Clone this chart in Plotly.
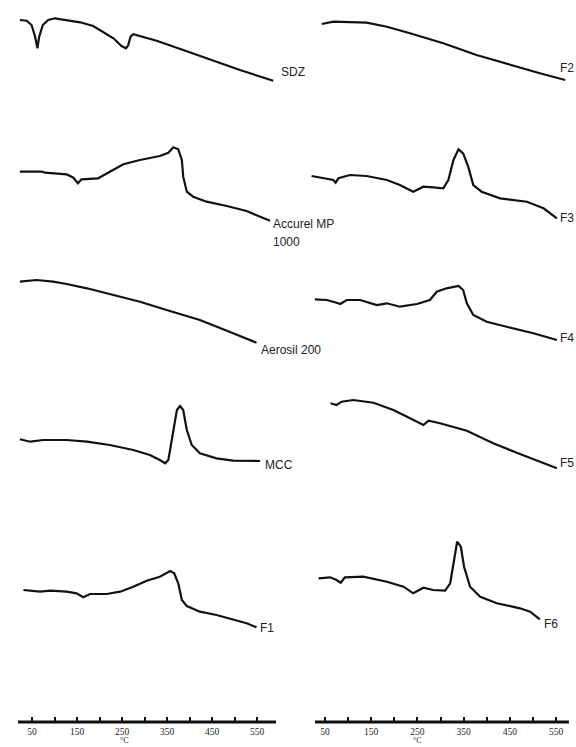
import plotly.graph_objects as go

# ---------------- data (temperature in degC, heat-flow signal in arbitrary units, up = exo) -------------
sdz_T = [23, 38, 49, 57, 62, 66, 74, 86, 101, 127, 157, 186, 208, 231, 249, 259, 264, 269, 275, 290, 327, 386, 460, 512, 586]
sdz_S = [0, -0.7, -5, -16.7, -28.3, -16.7, -5, 0, 1.7, 0, -2.3, -6, -11.7, -18.3, -26, -28.3, -25, -16.7, -14.3, -16, -20.7, -30, -41.7, -50, -60.7]

acc_T = [23, 72, 79, 127, 142, 152, 160, 197, 223, 253, 290, 334, 353, 364, 375, 383, 386, 394, 408, 438, 483, 527, 557, 579]
acc_S = [0, 0, -1, -2.6, -6, -11.6, -7.6, -6.6, 0, 7.4, 11.7, 15.7, 19, 24.4, 22.4, 11.7, -5, -20, -25, -30, -34.3, -39.3, -45, -49]

aer_T = [23, 60, 97, 127, 172, 223, 290, 349, 423, 497, 549]
aer_S = [0, 1.7, 0, -2.3, -6.6, -12.3, -20, -28.3, -38.3, -51.6, -61]

mcc_T = [23, 46, 75, 127, 172, 223, 275, 312, 334, 346, 353, 364, 372, 379, 386, 394, 405, 423, 460, 497, 557]
mcc_S = [0, -2.4, -0.7, -0.7, -2.4, -5.7, -10.7, -15.7, -20.7, -24, -20.7, 6, 29.3, 33.3, 29.3, 9.3, -5.7, -14, -19, -21.4, -21.7]

f1_T = [31, 68, 90, 127, 149, 164, 179, 216, 246, 275, 305, 334, 357, 366, 375, 383, 394, 423, 460, 497, 527, 549]
f1_S = [0, -1.7, -0.7, -1.7, -3.3, -7.3, -4, -4, -1.7, 3.3, 9.3, 13.3, 19, 16.7, 6.7, -10, -16, -21.7, -25, -29.3, -33.3, -37.3]

f2_T = [43, 68, 140, 184, 234, 306, 378, 450, 515, 570]
f2_S = [0, 2.3, 1.3, -2.7, -9.3, -19.3, -31, -41, -49.3, -56]

f3_T = [21, 54, 68, 73, 79, 104, 140, 184, 212, 241, 263, 284, 306, 317, 328, 339, 349, 360, 371, 389, 429, 487, 523, 552]
f3_S = [0, -2.3, -4, -6.7, -2.3, 1, 0, -4, -9, -15.7, -10.7, -11.3, -12.3, -4, 16, 26.7, 22.7, 9.3, -9, -15.7, -22.3, -25.7, -32.3, -42.3]

f4_T = [28, 54, 75, 83, 97, 126, 162, 184, 212, 249, 277, 292, 313, 339, 349, 357, 371, 400, 443, 501, 552]
f4_S = [0, -0.7, -3.4, -4.7, -0.7, -0.7, -5.7, -4, -7.4, -4.7, -0.7, 7.6, 11, 13.3, 9.3, -4, -15.7, -22.4, -27.4, -34, -40.7]

f5_T = [62, 75, 86, 111, 155, 198, 234, 263, 274, 299, 357, 414, 472, 523, 552]
f5_S = [0, -1.7, 1.6, 3.3, 0.6, -6.7, -15, -21.7, -17.4, -20, -27.4, -40, -50.7, -59.4, -65]

f6_T = [36, 61, 75, 84, 93, 133, 184, 220, 241, 263, 284, 310, 321, 329, 336, 344, 351, 364, 386, 422, 472, 494, 515]
f6_S = [0, 1, -1.7, -4.4, 1, 1.6, -3.4, -8.4, -15, -9.4, -11.7, -12.4, -5, 18.3, 36.6, 31.6, 11.6, -8.4, -18.4, -25, -30, -33.4, -41]

names = ["SDZ", "Accurel MP 1000", "Aerosil 200", "MCC", "F1", "F2", "F3", "F4", "F5", "F6"]

tick_vals = [50, 100, 150, 200, 250, 300, 350, 400, 450, 500, 550]
tick_text = ["50", "", "150", "", "250", "", "350", "", "450", "", "550"]

# ---------------- layout / stacking config ----------------
W, H = 576, 747
curves = [
    # (T, S, axis, vertical offset)
    (sdz_T, sdz_S, "x", 727),
    (acc_T, acc_S, "x", 575.3),
    (aer_T, aer_S, "x", 465.3),
    (mcc_T, mcc_S, "x", 307.7),
    (f1_T, f1_S, "x", 157),
    (f2_T, f2_S, "x2", 723),
    (f3_T, f3_S, "x2", 571),
    (f4_T, f4_S, "x2", 447.7),
    (f5_T, f5_S, "x2", 343.7),
    (f6_T, f6_S, "x2", 168.7),
]
labels = [
    ("SDZ", "x", 599, 675),
    ("Accurel MP", "x", 581, 523),
    ("1000", "x", 581, 505),
    ("Aerosil 200", "x", 554, 397),
    ("MCC", "x", 563, 282),
    ("F1", "x", 552, 119),
    ("F2", "x2", 554, 679),
    ("F3", "x2", 554, 529),
    ("F4", "x2", 554, 409),
    ("F5", "x2", 554, 284),
    ("F6", "x2", 520, 123),
]

fig = go.Figure()
for (T, S, xa, off), nm in zip(curves, names):
    fig.add_trace(go.Scatter(
        x=T, y=[off + s for s in S], xaxis=xa, yaxis="y", mode="lines", name=nm,
        line=dict(color="#111111", width=2.2),
        showlegend=False, hoverinfo="skip"))

axis_pos = 25 / H
common_x = dict(anchor="free", position=axis_pos, side="bottom", showgrid=False, zeroline=False,
                showline=False, ticks="inside", ticklen=5, tickwidth=2, tickcolor="#111111",
                tickmode="array", tickvals=tick_vals, ticktext=tick_text, ticklabelstandoff=2,
                tickfont=dict(family="Liberation Serif", size=9.5, color="#222222"))
fig.update_layout(
    width=W, height=H,
    margin=dict(l=0, r=0, t=0, b=0),
    paper_bgcolor="white", plot_bgcolor="white",
    xaxis=dict(domain=[0, 0.5], range=[-21.1, 618.9], **common_x),
    xaxis2=dict(domain=[0.5, 1], range=[-30.1, 593.3], **common_x),
    yaxis=dict(domain=[0, 1], range=[0, H], visible=False),
)

# axis baselines
for xa, x0, x1 in [("x", 18.9, 592.2), ("x2", 28.4, 578)]:
    fig.add_shape(type="line", xref=xa, yref="paper", x0=x0, x1=x1, y0=axis_pos, y1=axis_pos,
                  line=dict(color="#111111", width=3))

for txt, xa, xv, yv in labels:
    fig.add_annotation(text=txt, xref=xa, yref="y", x=xv, y=yv, xanchor="left", yanchor="middle",
                       showarrow=False, font=dict(family="Liberation Sans", size=12, color="#222222"))

for xa, xv in [("x", 256), ("x2", 251)]:
    fig.add_annotation(text="°C", xref=xa, yref="paper", x=xv, y=0, xanchor="center", yanchor="bottom",
                       showarrow=False, font=dict(family="Liberation Serif", size=8, color="#222222"))

fig.write_html("out.html")
